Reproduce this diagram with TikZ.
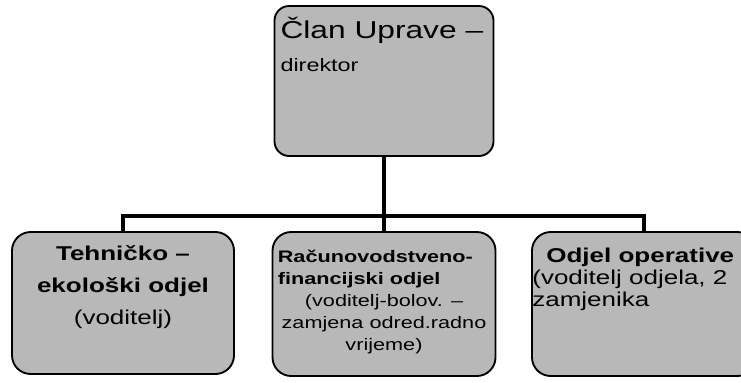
\documentclass[tikz,border=0pt]{standalone}
\usepackage{fontspec}
\setmainfont{Liberation Sans}[FakeStretch=1.3]
\usetikzlibrary{positioning}

\tikzset{
	orgbox/.style={draw=black, line width=1.4pt, fill=black!28, rounded corners=14pt, inner sep=0pt},
	orgtext/.style={inner sep=0pt, text=black},
	conn/.style={line width=3pt, black},
}

\begin{document}
\begin{tikzpicture}[x=0.75pt,y=-0.75pt]
	\useasboundingbox (0,0) rectangle (741,382);
	\clip (0,0) rectangle (741,382);

	% boxes
	\node[orgbox, rounded corners=11pt, minimum width=164.25pt, minimum height=112.5pt] (uprava) at (384,81) {};
	\node[orgbox, minimum width=166.5pt, minimum height=106.5pt] (tehnicki) at (123,303) {};
	\node[orgbox, minimum width=167.25pt, minimum height=108pt] (racun) at (384,304) {};
	\node[orgbox, minimum width=168pt, minimum height=108pt] (operativa) at (644,304) {};

	% texts
	\node[orgtext, anchor=north west, align=left, font=\fontsize{18.3}{25}\selectfont,
		below right=9pt and 5pt of uprava.north west] (upravatxt)
		{Član Uprave –\\{\fontsize{13.5}{25}\selectfont direktor}};
	\node[orgtext, align=center, font=\fontsize{15}{24}\selectfont,
		below=10.5pt of tehnicki.north] (tehnickitxt)
		{\textbf{Tehničko –}\\\textbf{ekološki odjel}\\(voditelj)};
	\node[orgtext, anchor=north west, align=left, font=\fontsize{12.5}{16.5}\selectfont\bfseries,
		below right=14pt and 4.5pt of racun.north west] (racuntxt)
		{Računovodstveno-\\financijski odjel};
	\node[orgtext, align=center, font=\fontsize{12.5}{16.5}\selectfont,
		below=47pt of racun.north] (racunnote)
		{(voditelj-bolov. –\\zamjena odred.radno\\vrijeme)};
	\node[orgtext, anchor=north west, align=left, font=\fontsize{15}{16.5}\selectfont,
		below right=12.75pt and 0.75pt of operativa.north west] (operativatxt)
		{\hspace*{10.5pt}\textbf{Odjel operative}\\(voditelj odjela, 2\\zamjenika};

	% connectors
	\path (uprava.south) ++(0,59) coordinate (bus);
	\draw[conn] (uprava.south) -- (racun.north);
	\draw[conn] (tehnicki.north) |- (bus) -| (operativa.north);
\end{tikzpicture}
\end{document}
